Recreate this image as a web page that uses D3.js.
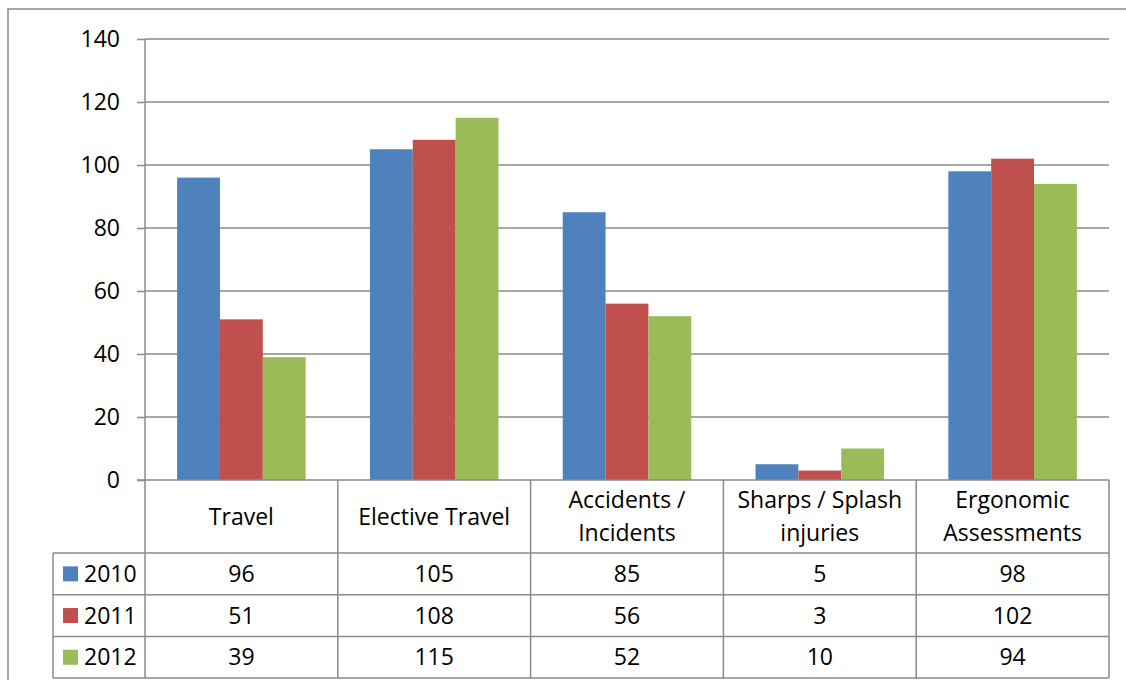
<!DOCTYPE html>
<html>
<head>
<meta charset="utf-8">
<script src="https://cdn.jsdelivr.net/npm/d3@7"></script>
<style>
  html, body { margin: 0; padding: 0; background: #fff; }
  svg { display: block; }
  text { font-family: "Open Sans", Lato, sans-serif; fill: #000; }
</style>
</head>
<body>
<svg id="chart" width="1126" height="680"></svg>
<script>
// ---- data ----
const categories = ["Travel", "Elective Travel", "Accidents /\nIncidents", "Sharps / Splash\ninjuries", "Ergonomic\nAssessments"];
const years = ["2010", "2011", "2012"];
const values2010 = [96, 105, 85, 5, 98];
const values2011 = [51, 108, 56, 3, 102];
const values2012 = [39, 115, 52, 10, 94];
const yTicks = [0, 20, 40, 60, 80, 100, 120, 140];
const colors = ["#4F81BD", "#C0504D", "#9BBB59"];

const seriesValues = [values2010, values2011, values2012];

// ---- layout ----
const svg = d3.select("#chart");
const plotLeft = 145, plotRight = 1109, plotTop = 39, plotBottom = 480;
const headerBottom = 553;
const rowH = 41.7;
const tableLeft = 53;
const lineColor = "#8a8a8a";
const fontSize = 23;
const fontFamily = "'Open Sans', Lato, sans-serif";

// outer border
svg.append("rect").attr("x", 8).attr("y", 9).attr("width", 1130).attr("height", 690)
  .attr("fill", "none").attr("stroke", lineColor).attr("stroke-width", 1.5);

const x = d3.scaleBand().domain(categories).range([plotLeft, plotRight]);
const x1 = d3.scaleBand().domain(years).range([0, x.bandwidth()]).paddingInner(0).paddingOuter(0.75);
const y = d3.scaleLinear().domain([0, 140]).range([plotBottom, plotTop]);

// gridlines
svg.append("g").selectAll("line").data(yTicks.filter(d => d > 0)).join("line")
  .attr("x1", plotLeft).attr("x2", plotRight)
  .attr("y1", d => y(d)).attr("y2", d => y(d))
  .attr("stroke", lineColor).attr("stroke-width", 1.5);

// y axis
const yAxis = d3.axisLeft(y).tickValues(yTicks).tickSize(8).tickPadding(17).tickFormat(d3.format("d"));
const ga = svg.append("g").attr("transform", `translate(${plotLeft},0)`).call(yAxis);
ga.select(".domain").remove();
ga.selectAll(".tick line").attr("stroke", lineColor).attr("stroke-width", 1.5);
ga.selectAll(".tick text").attr("font-size", fontSize).attr("font-family", fontFamily).attr("fill", "#000");

// bars
const groups = svg.append("g").selectAll("g").data(categories).join("g")
  .attr("transform", d => `translate(${x(d)},0)`);
groups.selectAll("rect")
  .data((c, ci) => years.map((yr, si) => ({ yr, si, v: seriesValues[si][ci] })))
  .join("rect")
  .attr("x", d => x1(d.yr))
  .attr("width", x1.bandwidth())
  .attr("y", d => y(d.v))
  .attr("height", d => y(0) - y(d.v))
  .attr("fill", d => colors[d.si]);

// ---- data table ----
const tableBottom = headerBottom + rowH * years.length;
const t = svg.append("g").attr("stroke", lineColor).attr("stroke-width", 1.5);
t.append("line").attr("x1", plotLeft).attr("x2", plotLeft).attr("y1", plotTop).attr("y2", tableBottom);
t.append("line").attr("x1", plotLeft - 8).attr("x2", plotRight).attr("y1", plotBottom).attr("y2", plotBottom);
const bounds = categories.map(c => x(c) + x.bandwidth());
t.selectAll(".vb").data(bounds).join("line").attr("class", "vb")
  .attr("x1", d => d).attr("x2", d => d).attr("y1", plotBottom).attr("y2", tableBottom);
const rowLines = d3.range(years.length + 1).map(i => headerBottom + i * rowH);
t.selectAll(".hr").data(rowLines).join("line").attr("class", "hr")
  .attr("x1", tableLeft).attr("x2", plotRight).attr("y1", d => d).attr("y2", d => d);
t.append("line").attr("x1", tableLeft).attr("x2", tableLeft).attr("y1", headerBottom).attr("y2", tableBottom);

// header labels
const headerMid = (plotBottom + headerBottom) / 2;
svg.append("g").selectAll("text").data(categories).join("text")
  .attr("text-anchor", "middle")
  .attr("font-size", fontSize)
  .attr("x", d => x(d) + x.bandwidth() / 2)
  .each(function (d) {
    const lines = d.split("\n");
    const lh = 33;
    const base = headerMid + 8 - (lines.length - 1) * lh / 2;
    d3.select(this).selectAll("tspan").data(lines).join("tspan")
      .attr("x", x(d) + x.bandwidth() / 2)
      .attr("y", (l, i) => base + i * lh)
      .text(l => l);
  });

// value rows
years.forEach((yr, si) => {
  const cy = headerBottom + si * rowH + rowH / 2;
  svg.append("rect").attr("x", 63).attr("y", cy - 7.5).attr("width", 15).attr("height", 15).attr("fill", colors[si]);
  svg.append("text").attr("x", 84).attr("y", cy + 8).attr("font-size", fontSize).text(yr);
  svg.append("g").selectAll("text").data(categories).join("text")
    .attr("text-anchor", "middle").attr("font-size", fontSize)
    .attr("x", d => x(d) + x.bandwidth() / 2)
    .attr("y", cy + 8)
    .text((d, ci) => seriesValues[si][ci]);
});
</script>
</body>
</html>
